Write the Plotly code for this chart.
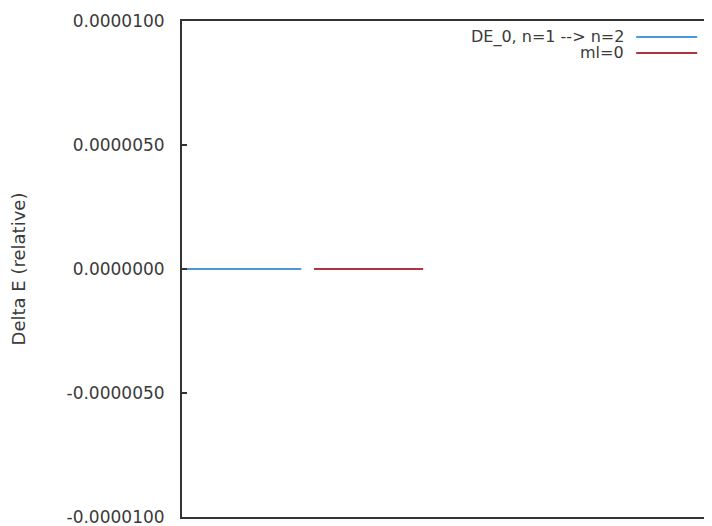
import plotly.graph_objects as go

# Data
series_names = ["DE_0, n=1 --> n=2", "ml=0"]
blue_x = [0.0, 0.225]
blue_y = [0.0, 0.0]
red_x = [0.249, 0.455]
red_y = [0.0, 0.0]
y_ticks = [0.00001, 0.000005, 0.0, -0.000005, -0.00001]
y_tick_labels = ["0.0000100", "0.0000050", "0.0000000", "-0.0000050", "-0.0000100"]

blue = "#4a98dc"
red = "#b3323f"
txt = "#3a3a3a"

fig = go.Figure()
fig.add_trace(go.Scatter(x=blue_x, y=blue_y, mode="lines",
                         line=dict(color=blue, width=2), name=series_names[0],
                         showlegend=False))
fig.add_trace(go.Scatter(x=red_x, y=red_y, mode="lines",
                         line=dict(color=red, width=2), name=series_names[1],
                         showlegend=False))

# gnuplot-style key: text right-aligned, sample line to the right
key_rows = [(series_names[0], blue, 0.9677), (series_names[1], red, 0.9355)]
for name, col, yy in key_rows:
    fig.add_annotation(x=0.838, y=yy, xref="paper", yref="paper", text=name,
                       showarrow=False, xanchor="right", yanchor="middle",
                       font=dict(family="DejaVu Sans", size=16, color=txt))
    fig.add_shape(type="line", xref="paper", yref="paper",
                  x0=0.857, x1=0.972, y0=yy, y1=yy,
                  line=dict(color=col, width=2))

# page body adds an 8px offset; size the figure so the plot area lands where the reference has it
fig.update_layout(
    width=704, height=518,
    margin=dict(l=174, r=0, t=13, b=9),
    paper_bgcolor="white", plot_bgcolor="white",
    font=dict(family="DejaVu Sans", size=17, color=txt),
    showlegend=False,
)
fig.update_xaxes(range=[0, 1], showticklabels=False, ticks="", showgrid=False,
                 zeroline=False, showline=True, mirror=True,
                 linecolor="#333333", linewidth=2, automargin=False)
fig.update_yaxes(range=[-0.00001, 0.00001], tickvals=y_ticks, ticktext=y_tick_labels,
                 ticks="inside", ticklen=5, tickcolor="#333333", tickwidth=1.5,
                 showgrid=False, zeroline=False, showline=True, automargin=False,
                 linecolor="#333333", linewidth=2, ticklabelstandoff=12,
                 ticklabeloverflow="allow",
                 tickfont=dict(family="DejaVu Sans", size=17, color=txt),
                 title=dict(text="Delta E (relative)", standoff=40,
                            font=dict(family="DejaVu Sans", size=18, color=txt)))

fig.write_html("out.html")
